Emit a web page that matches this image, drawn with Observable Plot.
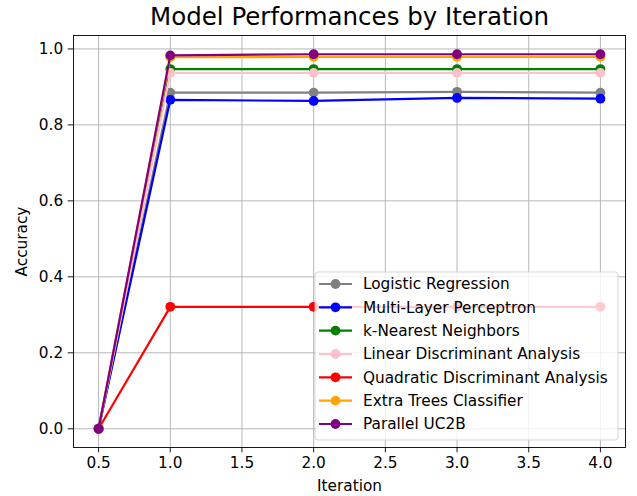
<!DOCTYPE html>
<html>
<head>
<meta charset="utf-8">
<script src="https://cdn.jsdelivr.net/npm/d3@7"></script>
<script src="https://cdn.jsdelivr.net/npm/@observablehq/plot@0.6"></script>
<style>
  html, body { margin: 0; padding: 0; background: white; }
  svg { display: block; }
</style>
</head>
<body>
<div id="chart"></div>
<script>
const iterations = [0.5, 1, 2, 3, 4];
const seriesNames = [
  "Logistic Regression",
  "Multi-Layer Perceptron",
  "k-Nearest Neighbors",
  "Linear Discriminant Analysis",
  "Quadratic Discriminant Analysis",
  "Extra Trees Classifier",
  "Parallel UC2B"
];
const seriesColors = ["gray", "blue", "green", "pink", "red", "orange", "purple"];
const logisticRegression = [0, 0.885, 0.885, 0.887, 0.885];
const multiLayerPerceptron = [0, 0.866, 0.863, 0.871, 0.869];
const kNearestNeighbors = [0, 0.947, 0.947, 0.947, 0.947];
const linearDiscriminant = [0, 0.937, 0.937, 0.937, 0.937];
const quadraticDiscriminant = [0, 0.321, 0.321, 0.321, 0.321];
const extraTrees = [0, 0.978, 0.979, 0.979, 0.979];
const parallelUC2B = [0, 0.983, 0.986, 0.986, 0.986];
const seriesValues = [logisticRegression, multiLayerPerceptron, kNearestNeighbors,
  linearDiscriminant, quadraticDiscriminant, extraTrees, parallelUC2B];
const xTicks = [0.5, 1.0, 1.5, 2.0, 2.5, 3.0, 3.5, 4.0];
const yTicks = [0.0, 0.2, 0.4, 0.6, 0.8, 1.0];
const titleText = "Model Performances by Iteration";
const xLabel = "Iteration";
const yLabel = "Accuracy";

const W = 637, H = 496;
const mL = 73, mR = 12, mT = 35, mB = 49;
const FONT = "DejaVu Sans";
const FS = 15.3;

// matplotlib-like 5% margins
const xMin = d3.min(iterations), xMax = d3.max(iterations);
const allY = seriesValues.flat();
const yMin = d3.min(allY), yMax = d3.max(allY);
const xPad = (xMax - xMin) * 0.05, yPad = (yMax - yMin) * 0.05;

const data = [];
seriesNames.forEach((name, i) => {
  iterations.forEach((it, j) => data.push({series: name, x: it, y: seriesValues[i][j], color: seriesColors[i]}));
});

const seriesMarks = [];
seriesNames.forEach((name, i) => {
  const d = data.filter(r => r.series === name);
  seriesMarks.push(Plot.line(d, {x: "x", y: "y", stroke: seriesColors[i], strokeWidth: 2.2}));
  seriesMarks.push(Plot.dot(d, {x: "x", y: "y", fill: seriesColors[i], r: 4.9, stroke: "none"}));
});

const plot = Plot.plot({
  width: W,
  height: H,
  marginLeft: mL,
  marginRight: mR,
  marginTop: mT,
  marginBottom: mB,
  style: {fontFamily: FONT, fontSize: FS + "px", background: "white", color: "black", overflow: "visible"},
  x: {domain: [xMin - xPad, xMax + xPad]},
  y: {domain: [yMin - yPad, yMax + yPad]},
  marks: [
    Plot.gridX(xTicks, {stroke: "#b0b0b0", strokeOpacity: 1, strokeWidth: 0.9}),
    Plot.gridY(yTicks, {stroke: "#b0b0b0", strokeOpacity: 1, strokeWidth: 0.9}),
    ...seriesMarks,
    Plot.frame({stroke: "black", strokeWidth: 0.9}),
    Plot.axisX(xTicks, {tickSize: 5.3, tickPadding: 4, tickFormat: d3.format(".1f"), label: null, fontSize: FS, strokeWidth: 0.9}),
    Plot.axisY(yTicks, {tickSize: 5.3, tickPadding: 5, tickFormat: d3.format(".1f"), label: null, fontSize: FS, strokeWidth: 0.9}),
    Plot.text([titleText], {frameAnchor: "top", dy: -18, fontSize: 24.5, fill: "black", lineAnchor: "middle"}),
    Plot.text([xLabel], {frameAnchor: "bottom", dy: 39, fontSize: FS, fill: "black", lineAnchor: "middle"}),
    Plot.text([yLabel], {frameAnchor: "left", dx: -51, rotate: -90, fontSize: FS, fill: "black", lineAnchor: "middle", textAnchor: "middle"})
  ]
});

// Legend (matplotlib-style, lower right, semi-transparent)
const svg = d3.select(plot);
const boxW = 303, boxH = 168;
const boxRight = W - mR - 7, boxBottom = H - mB - 7;
const bx = boxRight - boxW, by = boxBottom - boxH;
const lg = svg.append("g").attr("font-family", FONT).attr("font-size", FS).attr("text-anchor", "start");
lg.append("rect")
  .attr("x", bx).attr("y", by).attr("width", boxW).attr("height", boxH)
  .attr("rx", 3).attr("ry", 3)
  .attr("fill", "white").attr("fill-opacity", 0.8)
  .attr("stroke", "#cccccc").attr("stroke-opacity", 0.8).attr("stroke-width", 1);
seriesNames.forEach((name, i) => {
  const yy = by + 12 + i * 23.33;
  lg.append("line").attr("x1", bx + 4).attr("x2", bx + 37).attr("y1", yy).attr("y2", yy)
    .attr("stroke", seriesColors[i]).attr("stroke-width", 2.2);
  lg.append("circle").attr("cx", bx + 20.5).attr("cy", yy).attr("r", 4.9).attr("fill", seriesColors[i]);
  lg.append("text").attr("x", bx + 48).attr("y", yy).attr("dy", "0.35em")
    .attr("text-anchor", "start").attr("fill", "#000").text(name);
});

document.getElementById("chart").appendChild(plot);
</script>
</body>
</html>
